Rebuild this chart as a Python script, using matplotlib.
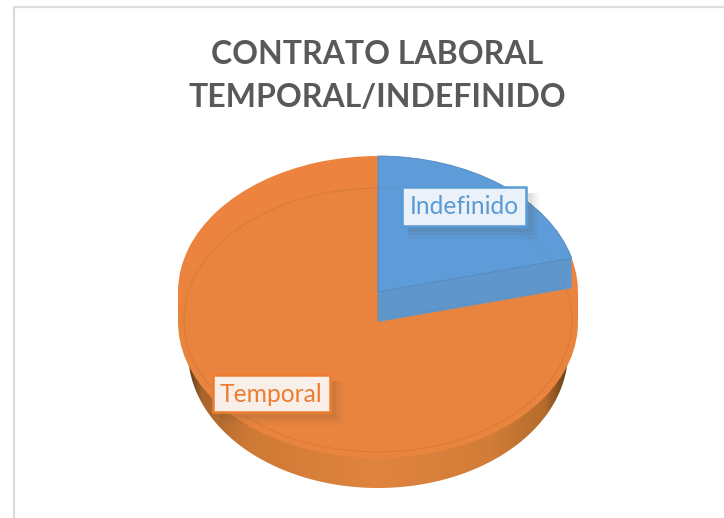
#!/usr/bin/python

import matplotlib
matplotlib.use("Agg")
import matplotlib.pyplot as plt
import numpy as np
from matplotlib.colors import LinearSegmentedColormap
from matplotlib.patches import Polygon, Rectangle

title = "CONTRATO LABORAL\nTEMPORAL/INDEFINIDO"
labels = ["Indefinido", "Temporal"]
values = [21, 79]

W = 724
H = 518
SQUASH = 0.68
R = 200
CX = 378


def py(y):
	# pixel row from the top -> data y of the squashed axes
	return (H - y) / SQUASH


def layer(ax, cy, colors, edges=("none", "none"), lw=0, z=2, radius=R):
	wedges = ax.pie(values, colors=colors, startangle=90, counterclock=False, radius=radius,
		center=(CX, py(cy)), wedgeprops={"linewidth": lw, "zorder": z})[0]
	for w, e in zip(wedges, edges):
		w.set_edgecolor(e)
	return wedges


def label_box(fig, x0, y0, x1, y1, face, edge):
	for grow, a in [(7, 0.05), (3, 0.06), (0, 0.07)]:
		fig.patches.append(Rectangle((x0 + 6, H - y1 - 6 - grow), x1 - x0 + grow, y1 - y0 + grow, transform=None,
			facecolor="#5a4a3a", alpha=a, edgecolor="none", figure=fig, zorder=5))
	fig.patches.append(Rectangle((x0, H - y1), x1 - x0, y1 - y0, transform=None,
		facecolor=face, edgecolor=edge, linewidth=1.8, figure=fig, zorder=6))


fig = plt.figure(figsize=(W / 100, H / 100), dpi=100)
fig.patches.append(Rectangle((13.5, -5), 800, H - 2, transform=None, facecolor="white",
	edgecolor="#dcdcdc", linewidth=1.6, figure=fig, zorder=-1))
ax = fig.add_axes([0, 0, 1, 1])
ax.patch.set_visible(False)

# rim under the orange part, dark only close to both ends
t = np.linspace(0, 2 * np.pi, 400)
rim = np.column_stack([CX + 190 * np.cos(t), py(352) + R * np.sin(t)])
clip = Polygon(rim, closed=True, transform=ax.transData, facecolor="none", edgecolor="none")
ax.add_patch(clip)
cmap = LinearSegmentedColormap.from_list("rim", [(0, "#5e3a14"), (0.035, "#a8642a"), (0.16, "#cf7a36"),
	(0.5, "#e0843f"), (0.8, "#d27c38"), (0.94, "#b56c2c"), (0.985, "#7a4a1c"), (1, "#5e3a14")])
img = ax.imshow(np.linspace(0, 1, 256).reshape(1, -1), cmap=cmap, aspect="auto", zorder=1,
	extent=(CX - 190, CX + 190, py(490), py(200)))
img.set_clip_path(clip)

# orange back wall, then the floor with its faint outline (upper part only)
layer(ax, 292, ["none", "#ec843f"], z=2)
ax.add_patch(Rectangle((CX - R, py(322)), 2 * R, py(292) - py(322), facecolor="#ec843f", edgecolor="none", zorder=2))
layer(ax, 322, ["none", "#e9843f"], z=3)
arc = layer(ax, 320, ["none", "none"], edges=("none", "#d8773a"), lw=0.6, z=3, radius=194)
arc[1].set_clip_path(Rectangle((0, py(345)), W, py(150) - py(345), transform=ax.transData))

# raised blue slice
for cy in range(322, 292, -1):
	layer(ax, cy, ["#5f97cb", "none"], z=4)
layer(ax, 292, ["#5d9cd8", "none"], edges=("#5488bb", "none"), lw=0.6, z=4)
layer(ax, 320, ["none", "none"], edges=("#5a8fc4", "none"), lw=0.4, z=4, radius=194)

ax.set_aspect("auto")
ax.set_xlim(0, W)
ax.set_ylim(0, H / SQUASH)
ax.set_zorder(2)
ax.axis("off")

label_box(fig, 402, 187, 526, 226, "#eaf1f9", "#5b9bd5")
label_box(fig, 213, 375, 330, 412, "#f9efe9", "#ed7d31")

fig.text(464 / W, 1 - 207 / H, labels[0], ha="center", va="center", color="#5b9bd5",
	family="Lato", fontsize=17.7, zorder=7)
fig.text(271.5 / W, 1 - 394 / H, labels[1], ha="center", va="center", color="#ed7d31",
	family="Lato", fontsize=17.7, zorder=7)
fig.text(377 / W, 1 - 76 / H, title, ha="center", va="center", color="#595959",
	family="Lato", fontweight="bold", fontsize=23, linespacing=1.55, zorder=7)

fig.savefig("out.png", dpi=100)
